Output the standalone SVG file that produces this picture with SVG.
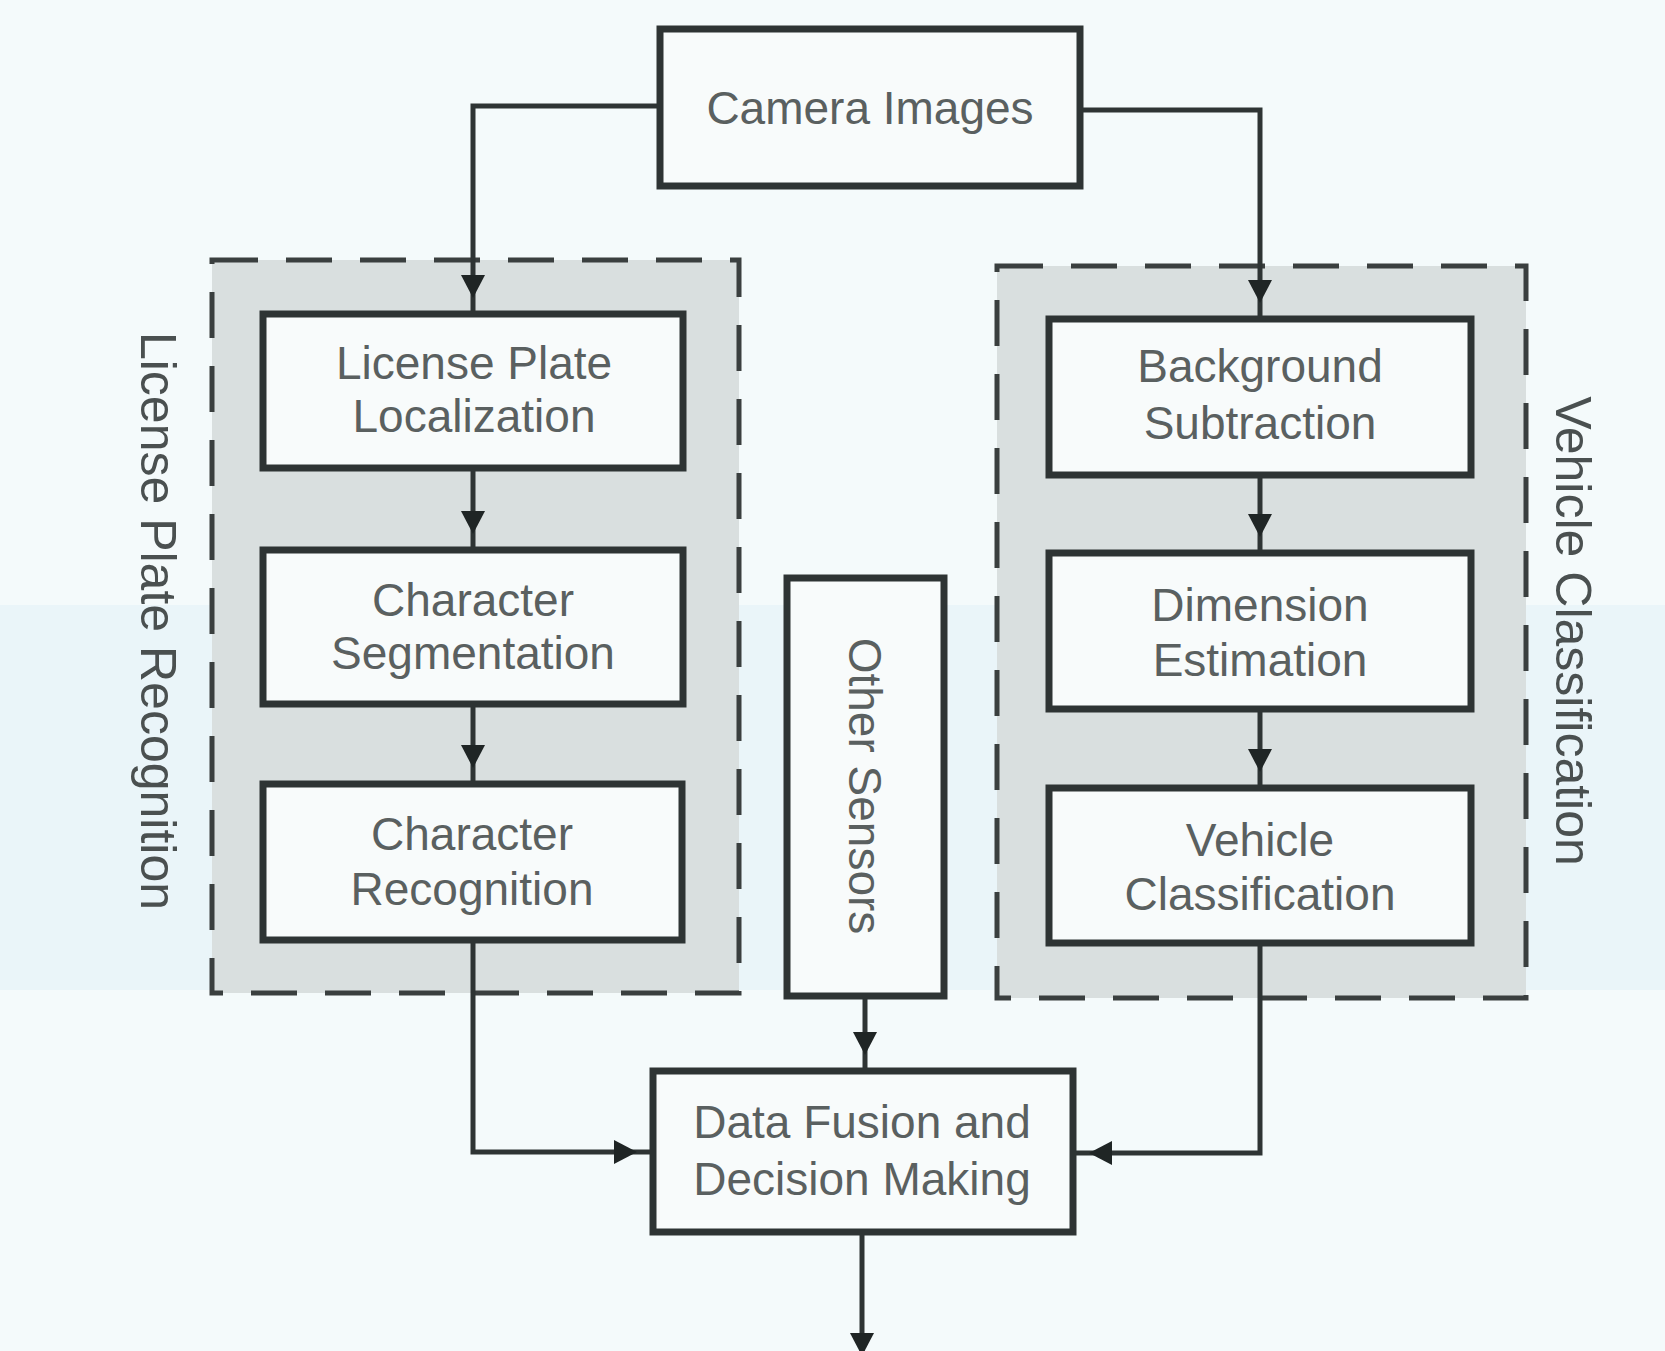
<svg xmlns="http://www.w3.org/2000/svg" width="1665" height="1351" viewBox="0 0 1665 1351">
  <defs>
    <style>
      .bg { fill: #f4fafb; }
      .band { fill: #eaf5f9; }
      .group { fill: #d9dfdf; stroke: #3a3f3f; stroke-width: 5; stroke-dasharray: 46 28; }
      .box { fill: #f8fbfb; stroke: #2e3434; stroke-width: 7; }
      .label { font-family: "Liberation Sans", Arial, sans-serif; font-size: 46px; fill: #5a6060; text-anchor: middle; }
      .glabel { font-family: "Liberation Sans", Arial, sans-serif; font-size: 50px; fill: #4a5050; text-anchor: middle; }
      .wire { fill: none; stroke: #2e3434; stroke-width: 5; marker-end: url(#arrow); }
    </style>
    <!-- filled arrowhead whose tip sits a little before the end of the line -->
    <marker id="arrow" viewBox="0 -13 50 26" markerWidth="50" markerHeight="26" markerUnits="userSpaceOnUse" refX="42" refY="0" orient="auto">
      <path d="M3,-12 L26,0 L3,12 z" fill="#1f2525"/>
    </marker>
  </defs>

  <rect class="bg" x="0" y="0" width="1665" height="1351"/>
  <rect class="band" x="0" y="605" width="1665" height="385"/>

  <!-- processing groups -->
  <g id="group-lpr">
    <rect class="group" x="212" y="260" width="527" height="733"/>
    <text class="glabel" transform="translate(141,621) rotate(90)">License Plate Recognition</text>
  </g>
  <g id="group-vc">
    <rect class="group" x="997" y="266" width="529" height="732"/>
    <text class="glabel" transform="translate(1556,631) rotate(90)">Vehicle Classification</text>
  </g>

  <!-- connectors -->
  <g id="connectors">
    <path class="wire" d="M660,106 H473 V314"/>
    <path class="wire" d="M1080,110 H1260 V319"/>
    <path class="wire" d="M473,468 V550"/>
    <path class="wire" d="M473,704 V784"/>
    <path class="wire" d="M1260,475 V553"/>
    <path class="wire" d="M1260,709 V788"/>
    <path class="wire" d="M473,940 V1152 H653"/>
    <path class="wire" d="M1260,943 V1153 H1073"/>
    <path class="wire" d="M865,996 V1071"/>
    <path class="wire" d="M862,1232 V1372"/>
  </g>

  <!-- nodes -->
  <g id="camera-images">
    <rect class="box" x="660" y="29" width="420" height="157"/>
    <text class="label" x="870" y="124">Camera Images</text>
  </g>
  <g id="plate-localization">
    <rect class="box" x="263" y="314" width="420" height="154"/>
    <text class="label" x="474" y="379">License Plate</text>
    <text class="label" x="474" y="432">Localization</text>
  </g>
  <g id="char-segmentation">
    <rect class="box" x="263" y="550" width="420" height="154"/>
    <text class="label" x="473" y="616">Character</text>
    <text class="label" x="473" y="669">Segmentation</text>
  </g>
  <g id="char-recognition">
    <rect class="box" x="263" y="784" width="419" height="156"/>
    <text class="label" x="472" y="850">Character</text>
    <text class="label" x="472" y="905">Recognition</text>
  </g>
  <g id="background-subtraction">
    <rect class="box" x="1049" y="319" width="422" height="156"/>
    <text class="label" x="1260" y="382">Background</text>
    <text class="label" x="1260" y="439">Subtraction</text>
  </g>
  <g id="dimension-estimation">
    <rect class="box" x="1049" y="553" width="422" height="156"/>
    <text class="label" x="1260" y="621">Dimension</text>
    <text class="label" x="1260" y="676">Estimation</text>
  </g>
  <g id="vehicle-classification">
    <rect class="box" x="1049" y="788" width="422" height="155"/>
    <text class="label" x="1260" y="856">Vehicle</text>
    <text class="label" x="1260" y="910">Classification</text>
  </g>
  <g id="other-sensors">
    <rect class="box" x="787" y="578" width="157" height="418"/>
    <text class="label" transform="translate(849,786) rotate(90)">Other Sensors</text>
  </g>
  <g id="data-fusion">
    <rect class="box" x="653" y="1071" width="420" height="161"/>
    <text class="label" x="862" y="1138">Data Fusion and</text>
    <text class="label" x="862" y="1195">Decision Making</text>
  </g>
</svg>
